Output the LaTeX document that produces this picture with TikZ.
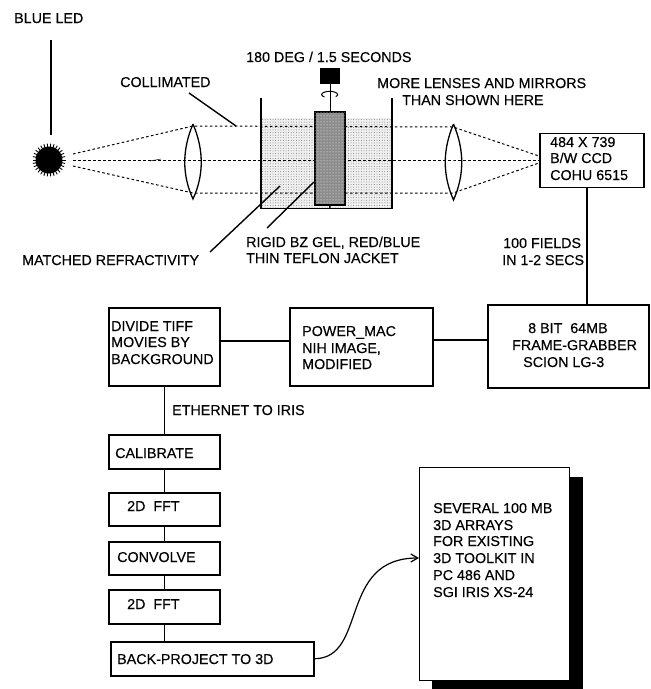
\documentclass[tikz,border=0pt]{standalone}
\usepackage{fontspec}
\setmainfont[FakeBold=0.25]{Liberation Sans}
\usetikzlibrary{arrows.meta,patterns.meta}
\tikzset{
  x=1pt,y=-1pt,
  lbl/.style={anchor=base west,inner sep=0pt,align=left,font=\fontsize{14.3}{16.7}\selectfont,text=black},
  boxn/.style={draw=black,line width=1.5pt,fill=white,inner sep=0pt,anchor=north west},
  wire/.style={draw=black,line width=1.4pt},
  ray/.style={draw=black,line width=1pt,dash pattern=on 2.6pt off 2.4pt},
  lens/.style={draw=black,line width=1.3pt},
}
\begin{document}
\begin{tikzpicture}
\useasboundingbox (0,0) rectangle (651,689);
% LED
\node[circle,fill=black,minimum size=27pt,inner sep=0pt] (led) at (49,160) {};
\foreach \a in {0,12,...,348}{\draw[black,line width=.9pt] (led.center) ++(\a:13) -- ++(\a:3.5);}
\coordinate (ledtop) at (51,40);
\coordinate (ledbot) at (51,135);
\draw[wire] (ledtop) -- (ledbot);
% water
\fill[black!6] (262,118) rectangle (391,208);
\fill[black!6] (268,125) rectangle (385,200);
\fill[pattern={Dots[radius=.5pt,distance=2.6pt]},pattern color=black!50] (262,118) rectangle (391,208);
% rays
\coordinate (r0) at (73,154); \coordinate (r1) at (73,160); \coordinate (r2) at (73,166);
\coordinate (la) at (193,126); \coordinate (lb) at (193,160); \coordinate (lc) at (193,193);
\coordinate (ma) at (453,127); \coordinate (mb) at (453,160); \coordinate (mc) at (453,193);
\coordinate (ca) at (539,156); \coordinate (cb) at (539,160); \coordinate (cc) at (539,163);
\draw[ray] (r0) -- (la) -- (ma) -- (ca);
\draw[ray] (r1) -- (mb) -- (cb);
\draw[ray] (r2) -- (lc) -- (mc) -- (cc);
\draw[black,line width=.5pt] (150,161) -- (161,159);
% lenses
\draw[lens] (193,124) .. controls (182,150) and (182,175) .. (193,199) .. controls (204,175) and (204,150) .. (193,124);
\draw[lens] (453.5,124) .. controls (442.5,150) and (442.5,175) .. (453.5,200) .. controls (464.5,175) and (464.5,150) .. (453.5,124);
% tank
\draw[black,line width=1.5pt] (261,98) -- (261,208.5) -- (392,208.5) -- (392,98);
% gel and motor
\node[draw=black,line width=1.5pt,fill=black!45,minimum width=30pt,minimum height=93pt,inner sep=0pt,anchor=north west,
  postaction={pattern={Dots[radius=.5pt,distance=3pt]},pattern color=white}] (gel) at (314,111) {};
\node[fill=black,minimum width=20pt,minimum height=16pt,inner sep=0pt,anchor=north west] (motor) at (320,68) {};
\coordinate (gelfoot) at (330,208);
\draw[wire] (motor.south) -- (motor.south |- gel.north);
\draw[wire] (gel.south) -- (gelfoot);
\draw[black,line width=1pt] (324.5,97) arc[start angle=130,end angle=400,x radius=8,y radius=3.2];
% leaders
\coordinate (c1) at (189,93); \coordinate (c2) at (236,126);
\coordinate (m1) at (210,252); \coordinate (m2) at (280,186);
\coordinate (g1) at (267,228); \coordinate (g2) at (314,182);
\draw[wire] (c1) -- (c2);
\draw[wire] (m1) -- (m2);
\draw[wire] (g1) -- (g2);
% labels
\node[lbl] (tled) at (14,23) {BLUE LED};
\node[lbl] (tcol) at (120,87) {COLLIMATED};
\node[lbl] (tdeg) at (246,62) {180 DEG / 1.5 SECONDS};
\node[lbl] (tmore) at (377,88) {MORE LENSES AND MIRRORS};
\node[lbl] (tthan) at (402,105) {THAN SHOWN HERE};
\node[lbl] (tmat) at (22,265) {MATCHED REFRACTIVITY};
\node[lbl] (trig) at (246,247) {RIGID BZ GEL, RED/BLUE};
\node[lbl] (tthin) at (246,263) {THIN TEFLON JACKET};
\node[lbl] (tfld) at (503,248) {100 FIELDS};
\node[lbl] (tsec) at (502,265) {IN 1-2 SECS};
\node[lbl] (teth) at (172,415) {ETHERNET TO IRIS};
% boxes
\node[boxn,minimum width=104pt,minimum height=54pt] (ccd) at (539,132.5) {};
\node[boxn,minimum width=161pt,minimum height=83pt] (fg) at (487,304) {};
\node[boxn,minimum width=143pt,minimum height=78pt] (pm) at (289,307) {};
\node[boxn,minimum width=111pt,minimum height=78pt] (div) at (108,307) {};
\node[boxn,minimum width=111pt,minimum height=34pt] (cal) at (108,434) {};
\node[boxn,minimum width=111pt,minimum height=33pt] (fa) at (108,492) {};
\node[boxn,minimum width=111pt,minimum height=33pt] (con) at (108,541) {};
\node[boxn,minimum width=111pt,minimum height=34pt] (fb) at (108,589) {};
\node[boxn,minimum width=203pt,minimum height=34pt] (bp) at (110,641) {};
\fill[black] (432,477) rectangle (583,689);
\node[boxn,minimum width=150pt,minimum height=213pt,line width=1.2pt] (big) at (419,467) {};
% box text
\node[lbl] (t1) at (550,147) {484 X 739};
\node[lbl] (t2) at (550,163) {B/W CCD};
\node[lbl] (t3) at (550,180) {COHU 6515};
\node[lbl] (t4) at (528,333) {8 BIT~~64MB};
\node[lbl] (t5) at (512,350) {FRAME-GRABBER};
\node[lbl] (t6) at (523,367) {SCION LG-3};
\node[lbl] (t7) at (302,336) {POWER\_MAC};
\node[lbl] (t8) at (302,353) {NIH IMAGE,};
\node[lbl] (t9) at (302,369) {MODIFIED};
\node[lbl] (t10) at (111,331) {DIVIDE TIFF};
\node[lbl] (t11) at (111,347) {MOVIES BY};
\node[lbl] (t12) at (111,364) {BACKGROUND};
\node[lbl] (t13) at (115,458) {CALIBRATE};
\node[lbl] (t14) at (127,511) {2D~~FFT};
\node[lbl] (t15) at (117,562) {CONVOLVE};
\node[lbl] (t16) at (127,609) {2D~~FFT};
\node[lbl] (t17) at (117,664) {BACK-PROJECT TO 3D};
\node[lbl] (t18) at (433,513) {SEVERAL 100 MB};
\node[lbl] (t19) at (433,530) {3D ARRAYS};
\node[lbl] (t20) at (433,546) {FOR EXISTING};
\node[lbl] (t21) at (433,563) {3D TOOLKIT IN};
\node[lbl] (t22) at (433,580) {PC 486 AND};
\node[lbl] (t23) at (433,597) {SGI IRIS XS-24};
% connectors
\draw[wire] (ccd.south -| 587,0) -- (fg.north -| 587,0);
\draw[wire] (fg.west |- 0,340) -- (pm.east |- 0,340);
\draw[wire] (pm.west |- 0,341) -- (div.east |- 0,341);
\draw[wire] (div.south) -- (cal.north);
\draw[wire] (cal.south) -- (fa.north);
\draw[wire] (fa.south) -- (con.north);
\draw[wire] (con.south) -- (fb.north);
\draw[wire] (fb.south) -- (fb.south |- bp.north);
\draw[black,line width=1.2pt,-{Straight Barb[length=7pt,width=8pt]}] (bp.east) .. controls (368,658) and (338,558) .. (big.west |- 0,558);
\end{tikzpicture}
\end{document}
